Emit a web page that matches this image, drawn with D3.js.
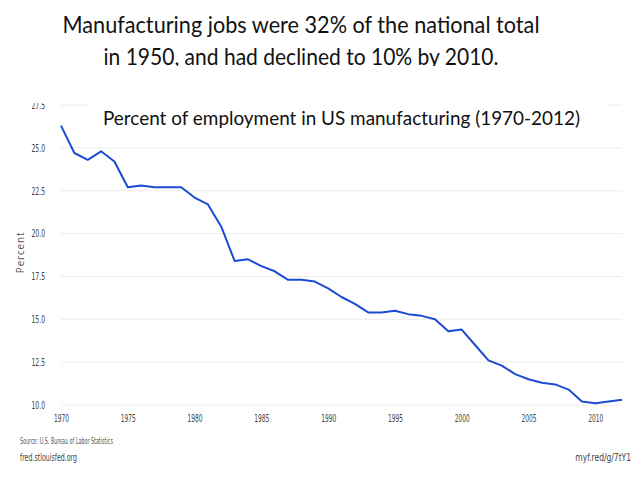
<!DOCTYPE html>
<html>
<head>
<meta charset="utf-8">
<script src="https://cdn.jsdelivr.net/npm/d3@7"></script>
<style>
  body { margin: 0; background: #fff; }
  svg { display: block; }
</style>
</head>
<body>
<div id="chart"></div>
<script>
// data
let years = [1970, 1971, 1972, 1973, 1974, 1975, 1976, 1977, 1978, 1979,
    1980, 1981, 1982, 1983, 1984, 1985, 1986, 1987, 1988, 1989,
    1990, 1991, 1992, 1993, 1994, 1995, 1996, 1997, 1998, 1999,
    2000, 2001, 2002, 2003, 2004, 2005, 2006, 2007, 2008, 2009,
    2010, 2011, 2012];
let percent = [26.3, 24.7, 24.3, 24.8, 24.2, 22.7, 22.8, 22.7, 22.7, 22.7,
    22.1, 21.7, 20.4, 18.4, 18.5, 18.1, 17.8, 17.3, 17.3, 17.2,
    16.8, 16.3, 15.9, 15.4, 15.4, 15.5, 15.3, 15.2, 15.0, 14.3,
    14.4, 13.5, 12.6, 12.3, 11.8, 11.5, 11.3, 11.2, 10.9, 10.2,
    10.1, 10.2, 10.3];
let yTicks = [10.0, 12.5, 15.0, 17.5, 20.0, 22.5, 25.0, 27.5];
let xTicks = [1970, 1975, 1980, 1985, 1990, 1995, 2000, 2005, 2010];

let titleLines = ["Manufacturing jobs were 32% of the national total",
    "in 1950, and had declined to 10% by 2010."];
let subtitle = "Percent of employment in US manufacturing (1970-2012)";

let width = 640, height = 480;
let margin = {top: 105, right: 18, bottom: 75, left: 61};
let tickFont = "'Liberation Sans Narrow', 'DejaVu Sans Condensed', sans-serif";
let titleFont = "Lato, 'Open Sans', sans-serif";

let svg = d3.select("#chart").append("svg")
    .attr("width", width)
    .attr("height", height);

let x = d3.scaleLinear()
    .domain([1970, 2012])
    .range([margin.left, width - margin.right]);

let y = d3.scaleLinear()
    .domain([10, 27.5])
    .range([height - margin.bottom, margin.top]);

// gridlines
svg.append("g")
    .selectAll("line")
    .data(yTicks)
    .enter().append("line")
    .attr("x1", x(1970))
    .attr("x2", x(2012))
    .attr("y1", d => y(d))
    .attr("y2", d => y(d))
    .attr("stroke", "#ececec")
    .attr("stroke-width", 1);

// y axis
let yAxis = svg.append("g")
    .attr("transform", `translate(${margin.left - 13}, 0)`)
    .call(d3.axisLeft(y).tickValues(yTicks).tickFormat(d3.format(".1f")).tickSize(0));
yAxis.select(".domain").remove();
yAxis.selectAll("text")
    .attr("font-family", tickFont)
    .attr("font-size", 10.5)
    .attr("fill", "#444")
    .attr("textLength", 13.5)
    .attr("lengthAdjust", "spacingAndGlyphs");

// x axis
let xAxis = svg.append("g")
    .attr("transform", `translate(0, ${height - margin.bottom + 7})`)
    .call(d3.axisBottom(x).tickValues(xTicks).tickFormat(d3.format("d")).tickSize(0));
xAxis.select(".domain").remove();
xAxis.selectAll("text")
    .attr("font-family", tickFont)
    .attr("font-size", 10.5)
    .attr("fill", "#444")
    .attr("textLength", 15)
    .attr("lengthAdjust", "spacingAndGlyphs");

// axis label
svg.append("text")
    .attr("transform", `translate(24, ${y(18.9)}) rotate(-90)`)
    .attr("text-anchor", "middle")
    .attr("font-family", "'Open Sans', sans-serif")
    .attr("font-size", 10)
    .attr("letter-spacing", 0.8)
    .attr("fill", "#555")
    .text("Percent");

// line
let line = d3.line()
    .x((d, i) => x(years[i]))
    .y(d => y(d));

svg.append("path")
    .datum(percent)
    .attr("fill", "none")
    .attr("stroke", "#1c4bd4")
    .attr("stroke-width", 2)
    .attr("stroke-linejoin", "round")
    .attr("d", line);

// title box covers top of chart
svg.append("rect")
    .attr("x", 0).attr("y", 0)
    .attr("width", width).attr("height", 103)
    .attr("fill", "#fff");

svg.append("clipPath")
    .attr("id", "title-clip")
    .append("rect")
    .attr("x", 0).attr("y", 0)
    .attr("width", width).attr("height", 66);

let titleWidths = [477, 395];
svg.append("g")
    .attr("clip-path", "url(#title-clip)")
    .selectAll("text")
    .data(titleLines)
    .enter().append("text")
    .attr("x", 301)
    .attr("y", (d, i) => 33 + i * 32)
    .attr("text-anchor", "middle")
    .attr("font-family", titleFont)
    .attr("font-size", 23.5)
    .attr("fill", "#111")
    .attr("textLength", (d, i) => titleWidths[i])
    .attr("lengthAdjust", "spacingAndGlyphs")
    .text(d => d);

// subtitle box
svg.append("rect")
    .attr("x", 88).attr("y", 100)
    .attr("width", 520).attr("height", 34)
    .attr("fill", "#fff");

svg.append("text")
    .attr("x", 103)
    .attr("y", 125)
    .attr("font-family", titleFont)
    .attr("font-size", 19.5)
    .attr("fill", "#111")
    .attr("textLength", 477)
    .attr("lengthAdjust", "spacingAndGlyphs")
    .text(subtitle);

// footer
svg.append("text")
    .attr("x", 20).attr("y", 444)
    .attr("font-family", tickFont)
    .attr("font-size", 8)
    .attr("fill", "#555")
    .attr("textLength", 93)
    .attr("lengthAdjust", "spacingAndGlyphs")
    .text("Source: U.S. Bureau of Labor Statistics");

svg.append("text")
    .attr("x", 20).attr("y", 461)
    .attr("font-family", tickFont)
    .attr("font-size", 10.5)
    .attr("fill", "#444")
    .attr("textLength", 57)
    .attr("lengthAdjust", "spacingAndGlyphs")
    .text("fred.stlouisfed.org");

// short link, squeezed with a transform so it stays inside the page
svg.append("text")
    .attr("transform", "translate(631, 461) scale(0.8, 1)")
    .attr("text-anchor", "end")
    .attr("font-family", tickFont)
    .attr("font-size", 10.5)
    .attr("fill", "#444")
    .text("myf.red/g/7tY1");
</script>
</body>
</html>
